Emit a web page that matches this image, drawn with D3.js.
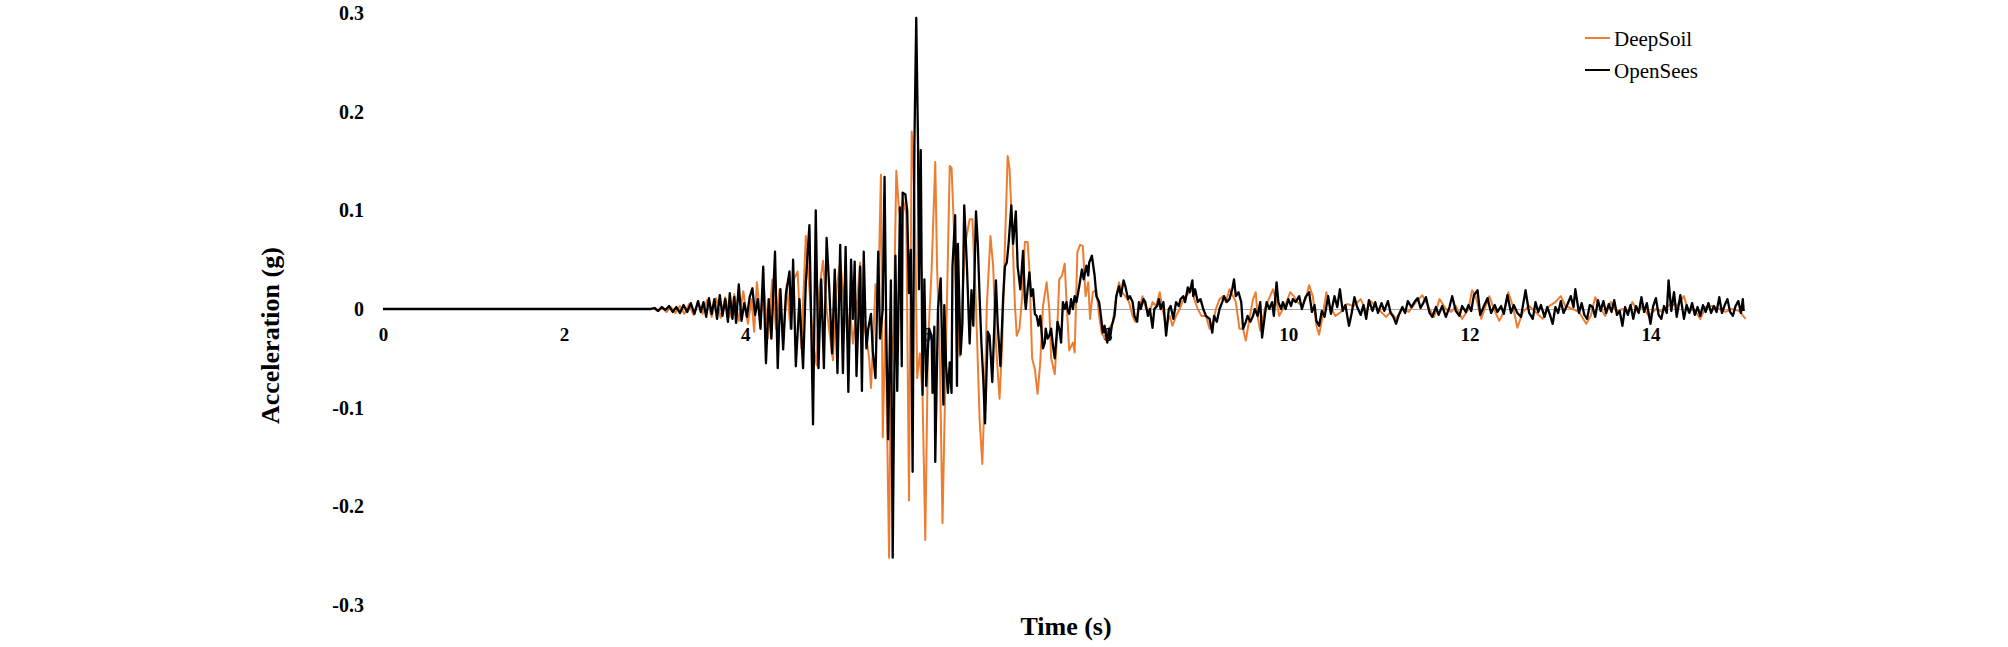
<!DOCTYPE html>
<html><head><meta charset="utf-8">
<script src="https://cdn.jsdelivr.net/npm/d3@7/dist/d3.min.js"></script>
<style>body{margin:0;background:#fff}svg{display:block}</style>
</head><body>
<svg id="chart" width="2008" height="647"></svg>
<script>
// ---- data ----
const xTicks = [0, 2, 4, 6, 8, 10, 12, 14];
const yTicks = [-0.3, -0.2, -0.1, 0, 0.1, 0.2, 0.3];
const seriesNames = ["DeepSoil", "OpenSees"];
const seriesColors = ["#ED7D31", "#000000"];
const seriesWidths = [2, 2.3];
const xTitle = "Time (s)";
const yTitle = "Acceleration (g)";

// [time (s), acceleration (g)]
const deepSoil = [
[0,0],[2.95,0],[2.98,0.001],[3.03,-0.002],[3.08,0.002],[3.13,-0.003],[3.18,0.002],[3.23,-0.004],[3.28,0.003],[3.33,-0.005],
[3.38,0.005],[3.43,-0.006],[3.48,0.007],[3.53,-0.005],[3.58,0.009],[3.63,-0.008],[3.68,0.011],[3.73,-0.009],[3.78,0.012],[3.83,-0.008],
[3.88,0.015],[3.93,-0.012],[3.98,0.018],[4.03,-0.015],[4.07,0.01],[4.10,-0.023],[4.13,0.027],[4.17,-0.01],[4.21,0.02],[4.25,-0.03],
[4.30,0.03],[4.34,-0.02],[4.38,0.02],[4.42,-0.035],[4.46,0.025],[4.50,-0.02],[4.54,0.03],[4.58,0.038],[4.62,-0.04],[4.67,0.074],
[4.71,0.02],[4.75,-0.035],[4.79,-0.057],[4.82,0.02],[4.86,0.049],[4.90,0.0],[4.94,-0.03],[4.97,-0.052],[5.01,0.02],[5.05,0.049],
[5.09,0.01],[5.13,-0.03],[5.16,0.0],[5.19,-0.035],[5.23,0.0],[5.27,0.047],[5.31,-0.015],[5.34,-0.03],[5.37,-0.05],[5.39,-0.08],
[5.42,-0.02],[5.44,0.025],[5.47,0.01],[5.50,0.136],[5.52,-0.13],[5.55,-0.01],[5.59,-0.252],[5.61,-0.06],[5.64,-0.02],[5.67,0.14],
[5.70,0.10],[5.72,0.09],[5.74,0.112],[5.78,0.096],[5.81,-0.194],[5.84,0.18],[5.86,0.143],[5.88,0.07],[5.90,-0.07],[5.93,-0.045],
[5.96,-0.09],[5.99,-0.234],[6.02,-0.035],[6.06,0.04],[6.10,0.149],[6.12,0.043],[6.15,-0.046],[6.18,-0.217],[6.22,-0.035],[6.26,0.145],
[6.28,0.143],[6.30,0.097],[6.33,0.019],[6.37,-0.048],[6.40,0.012],[6.43,0.066],[6.48,0.091],[6.51,0.091],[6.55,0.004],[6.59,-0.112],
[6.62,-0.157],[6.65,-0.074],[6.67,0.004],[6.71,0.074],[6.74,0.043],[6.77,-0.035],[6.81,-0.091],[6.84,-0.035],[6.86,0.035],[6.90,0.155],
[6.92,0.143],[6.95,0.081],[6.98,0.004],[7.00,-0.027],[7.03,-0.02],[7.06,0.013],[7.09,0.068],[7.12,0.068],[7.14,0.04],[7.17,-0.05],
[7.20,-0.061],[7.23,-0.086],[7.26,-0.054],[7.29,0.003],[7.33,0.027],[7.36,0.0],[7.38,-0.05],[7.42,-0.066],[7.44,-0.037],[7.47,0.03],
[7.50,0.034],[7.53,0.046],[7.55,0.007],[7.58,-0.042],[7.62,-0.034],[7.64,-0.044],[7.67,0.058],[7.70,0.065],[7.73,0.064],[7.76,0.013],
[7.79,0.027],[7.81,-0.01],[7.84,0.017],[7.88,0.019],[7.91,-0.007],[7.94,-0.025],[7.98,-0.03],[8.02,-0.02],[8.06,-0.014],[8.10,0.013],
[8.13,0.027],[8.16,0.017],[8.20,0.013],[8.24,0.007],[8.28,-0.007],[8.31,-0.013],[8.35,0.0],[8.39,0.013],[8.43,0.0],[8.47,-0.003],
[8.50,0.007],[8.54,0.003],[8.58,0.017],[8.61,0.0],[8.65,-0.017],[8.69,-0.007],[8.72,-0.017],[8.76,-0.007],[8.80,0.0],[8.83,0.007],
[8.87,0.013],[8.91,0.017],[8.94,0.02],[8.96,0.01],[9.00,0.0],[9.04,-0.007],[9.09,-0.007],[9.13,-0.02],[9.17,-0.013],[9.20,0.0],
[9.24,0.01],[9.28,0.013],[9.31,0.007],[9.35,0.02],[9.39,0.013],[9.42,0.007],[9.46,-0.02],[9.50,-0.02],[9.53,-0.032],[9.57,-0.01],
[9.61,0.01],[9.64,0.017],[9.66,-0.007],[9.69,-0.022],[9.74,0.0],[9.77,0.007],[9.83,0.02],[9.87,0.007],[9.90,-0.007],[9.94,0.0],
[9.98,0.007],[10.02,0.017],[10.06,0.013],[10.10,0.007],[10.15,0.003],[10.19,0.01],[10.23,0.024],[10.27,0.013],[10.31,-0.017],[10.34,-0.026],
[10.38,-0.007],[10.42,0.017],[10.46,0.003],[10.52,-0.007],[10.58,-0.003],[10.65,0.005],[10.72,0.003],[10.80,0.01],[10.86,-0.003],[10.91,0.008],
[10.99,0.0],[11.08,-0.008],[11.13,-0.003],[11.19,-0.01],[11.26,0.0],[11.33,-0.003],[11.41,0.007],[11.48,0.014],[11.56,0.0],[11.61,-0.008],
[11.67,0.01],[11.74,0.0],[11.80,-0.003],[11.85,0.003],[11.92,-0.01],[11.99,0.0],[12.03,0.019],[12.07,0.013],[12.13,-0.01],[12.18,0.003],
[12.22,0.013],[12.27,0.0],[12.33,-0.012],[12.38,-0.003],[12.43,0.017],[12.48,0.003],[12.53,-0.019],[12.59,-0.003],[12.66,0.003],[12.73,-0.003],
[12.81,-0.01],[12.88,0.003],[12.95,0.007],[13.01,0.013],[13.06,0.003],[13.14,0.0],[13.21,-0.003],[13.29,-0.015],[13.34,-0.007],[13.39,0.012],
[13.45,0.0],[13.50,-0.007],[13.56,0.007],[13.63,-0.003],[13.69,0.0],[13.75,-0.003],[13.80,0.007],[13.86,-0.003],[13.91,0.003],[13.98,-0.007],
[14.06,0.0],[14.13,-0.003],[14.22,0.005],[14.29,0.003],[14.37,0.013],[14.42,-0.003],[14.48,0.0],[14.55,-0.01],[14.61,0.002],[14.68,0.003],
[14.76,0.0],[14.83,-0.003],[14.90,0.0],[14.98,-0.002],[15.05,-0.01]
];

const openSees = [
[0,0],[2.96,0],[3.00,0.001],[3.04,-0.002],[3.08,0.002],[3.12,-0.001],[3.16,0.003],[3.20,-0.003],[3.24,0.002],[3.28,-0.004],
[3.32,0.004],[3.36,-0.003],[3.40,0.006],[3.44,-0.005],[3.48,0.008],[3.51,-0.003],[3.54,0.007],[3.57,-0.008],[3.60,0.011],[3.63,-0.005],
[3.66,0.010],[3.69,-0.010],[3.72,0.014],[3.75,-0.007],[3.78,0.010],[3.81,-0.013],[3.83,0.016],[3.86,-0.010],[3.88,0.012],[3.90,-0.014],
[3.93,0.025],[3.96,-0.012],[3.99,0.006],[4.02,-0.008],[4.05,0.012],[4.08,0.021],[4.11,-0.006],[4.14,0.01],[4.17,-0.02],[4.20,0.043],
[4.23,-0.055],[4.26,0.01],[4.29,-0.03],[4.33,0.058],[4.36,-0.06],[4.39,0.02],[4.42,-0.041],[4.45,0.015],[4.49,0.038],[4.51,-0.02],
[4.53,0.05],[4.56,-0.058],[4.60,0.01],[4.64,-0.06],[4.67,0.026],[4.71,0.085],[4.75,-0.117],[4.78,0.100],[4.81,-0.06],[4.84,0.03],
[4.87,-0.06],[4.90,0.072],[4.93,0.02],[4.96,-0.045],[4.99,0.04],[5.02,-0.065],[5.05,0.065],[5.08,-0.065],[5.11,0.063],[5.14,-0.084],
[5.17,0.05],[5.19,-0.01],[5.21,0.048],[5.23,-0.068],[5.27,0.043],[5.29,-0.083],[5.31,0.058],[5.33,-0.015],[5.34,-0.04],[5.36,-0.02],
[5.39,-0.005],[5.41,-0.043],[5.44,-0.07],[5.47,0.058],[5.49,-0.03],[5.52,0.0],[5.54,0.134],[5.56,-0.03],[5.58,-0.132],[5.61,0.029],
[5.63,-0.252],[5.66,0.054],[5.68,-0.083],[5.71,0.103],[5.73,-0.058],[5.74,0.118],[5.77,0.116],[5.79,0.10],[5.81,0.016],[5.83,0.06],
[5.85,-0.165],[5.87,0.17],[5.89,0.295],[5.91,0.166],[5.92,0.02],[5.94,0.161],[5.96,-0.087],[5.98,0.03],[6.00,-0.078],[6.03,-0.02],
[6.06,-0.027],[6.07,-0.085],[6.09,-0.018],[6.10,-0.155],[6.13,0.0],[6.16,0.031],[6.19,-0.097],[6.20,0.004],[6.22,-0.058],[6.24,-0.085],
[6.26,-0.054],[6.28,-0.085],[6.29,0.043],[6.32,0.095],[6.34,-0.078],[6.35,0.066],[6.38,-0.046],[6.40,-0.015],[6.42,0.105],[6.45,0.043],
[6.48,-0.035],[6.50,0.019],[6.52,-0.017],[6.55,0.099],[6.57,0.066],[6.59,0.012],[6.61,-0.035],[6.63,-0.07],[6.65,-0.116],[6.68,-0.023],
[6.70,-0.027],[6.73,-0.074],[6.75,-0.023],[6.77,0.029],[6.79,-0.016],[6.82,-0.058],[6.85,0.012],[6.87,0.043],[6.89,0.047],[6.91,0.066],
[6.94,0.105],[6.96,0.066],[6.99,0.099],[7.01,0.043],[7.04,0.02],[7.07,0.059],[7.09,0.01],[7.10,0.0],[7.12,0.02],[7.14,0.037],
[7.16,0.013],[7.18,0.02],[7.20,-0.005],[7.22,-0.007],[7.24,-0.017],[7.26,-0.007],[7.29,-0.04],[7.31,-0.034],[7.32,-0.02],[7.34,-0.03],
[7.36,-0.027],[7.38,-0.02],[7.40,-0.037],[7.42,-0.05],[7.44,-0.027],[7.45,-0.013],[7.47,-0.02],[7.49,-0.034],[7.51,0.007],[7.53,0.0],
[7.55,0.007],[7.56,0.0],[7.58,-0.005],[7.60,0.01],[7.62,0.0],[7.64,0.013],[7.66,0.007],[7.69,0.023],[7.72,0.04],[7.74,0.03],
[7.77,0.044],[7.79,0.034],[7.80,0.047],[7.83,0.054],[7.86,0.034],[7.88,0.013],[7.91,0.007],[7.93,-0.007],[7.95,-0.024],[7.97,-0.017],
[8.00,-0.034],[8.02,-0.02],[8.03,-0.03],[8.05,-0.017],[8.08,-0.007],[8.10,0.013],[8.13,0.023],[8.15,0.013],[8.18,0.029],[8.20,0.023],
[8.23,0.01],[8.25,0.013],[8.28,0.007],[8.30,-0.007],[8.33,-0.013],[8.35,0.007],[8.37,0.0],[8.40,0.01],[8.42,0.007],[8.45,-0.007],
[8.47,0.0],[8.50,-0.019],[8.52,0.0],[8.55,0.003],[8.57,0.01],[8.59,0.0],[8.62,0.007],[8.65,-0.027],[8.68,0.0],[8.70,0.003],
[8.73,-0.01],[8.76,0.007],[8.79,0.003],[8.81,0.01],[8.84,0.013],[8.86,0.007],[8.89,0.022],[8.91,0.017],[8.94,0.029],[8.95,0.013],
[8.97,0.02],[9.00,0.007],[9.03,0.01],[9.06,0.0],[9.09,-0.007],[9.13,-0.01],[9.16,-0.024],[9.18,-0.007],[9.21,-0.013],[9.24,0.0],
[9.27,0.007],[9.29,0.013],[9.32,0.007],[9.35,0.01],[9.38,0.02],[9.40,0.03],[9.42,0.013],[9.45,0.017],[9.48,0.007],[9.50,-0.02],
[9.53,-0.013],[9.55,-0.007],[9.58,-0.013],[9.61,-0.007],[9.63,0.0],[9.66,-0.007],[9.69,0.007],[9.71,-0.029],[9.74,-0.007],[9.76,0.007],
[9.79,0.0],[9.82,0.007],[9.84,-0.007],[9.87,0.027],[9.89,0.007],[9.92,0.0],[9.94,0.007],[9.97,0.0],[10.00,0.01],[10.03,0.003],
[10.05,0.01],[10.08,0.007],[10.12,0.013],[10.15,0.0],[10.19,0.012],[10.23,0.017],[10.26,-0.003],[10.29,0.004],[10.31,-0.012],[10.34,-0.017],
[10.37,-0.002],[10.40,-0.008],[10.44,0.013],[10.47,-0.005],[10.51,0.013],[10.54,0.002],[10.57,0.020],[10.60,-0.002],[10.63,0.004],[10.67,-0.017],
[10.70,-0.004],[10.73,0.012],[10.76,0.002],[10.80,-0.006],[10.83,0.004],[10.86,-0.010],[10.89,0.009],[10.93,-0.002],[10.96,0.007],[10.99,-0.004],
[11.03,0.006],[11.06,-0.002],[11.10,0.008],[11.13,-0.004],[11.16,-0.008],[11.19,-0.015],[11.22,-0.006],[11.26,0.002],[11.29,-0.004],[11.32,0.008],
[11.36,0.002],[11.40,0.008],[11.43,0.011],[11.46,0.001],[11.49,0.006],[11.52,0.012],[11.56,-0.004],[11.59,-0.008],[11.63,0.002],[11.66,-0.006],
[11.70,0.003],[11.74,-0.008],[11.78,0.002],[11.81,0.013],[11.85,-0.002],[11.89,-0.007],[11.92,0.003],[11.96,-0.003],[11.99,0.004],[12.02,-0.002],
[12.05,0.014],[12.09,0.019],[12.12,-0.006],[12.16,0.003],[12.20,0.011],[12.24,-0.004],[12.28,0.004],[12.31,-0.003],[12.35,0.003],[12.38,-0.005],
[12.42,0.014],[12.46,-0.004],[12.49,0.004],[12.53,-0.004],[12.57,-0.008],[12.62,0.019],[12.66,-0.004],[12.70,-0.010],[12.73,0.007],[12.76,-0.003],
[12.79,0.004],[12.83,-0.008],[12.86,0.002],[12.89,-0.006],[12.92,-0.015],[12.95,0.002],[12.98,-0.004],[13.01,0.008],[13.04,-0.004],[13.08,0.004],
[13.12,0.013],[13.15,0.002],[13.17,0.020],[13.21,-0.004],[13.24,0.006],[13.27,-0.006],[13.30,-0.010],[13.33,0.004],[13.36,0.002],[13.39,-0.008],
[13.42,0.009],[13.45,-0.002],[13.48,0.008],[13.51,-0.004],[13.54,0.005],[13.57,-0.003],[13.60,0.009],[13.63,-0.006],[13.66,-0.002],[13.69,-0.017],
[13.72,0.002],[13.75,-0.006],[13.78,0.004],[13.81,-0.010],[13.84,0.003],[13.87,-0.004],[13.90,0.012],[13.93,-0.003],[13.96,0.006],[14.00,-0.015],
[14.03,0.003],[14.06,0.011],[14.09,-0.006],[14.12,-0.010],[14.15,0.003],[14.18,-0.004],[14.20,0.029],[14.23,-0.002],[14.26,0.017],[14.29,-0.008],
[14.33,0.014],[14.37,-0.010],[14.40,0.004],[14.43,-0.004],[14.46,0.006],[14.49,-0.006],[14.52,0.002],[14.55,-0.007],[14.58,0.004],[14.61,-0.003],
[14.64,0.006],[14.67,-0.004],[14.70,0.003],[14.73,-0.003],[14.76,0.012],[14.79,-0.004],[14.82,0.004],[14.85,0.010],[14.88,-0.003],[14.91,-0.007],
[14.94,0.003],[14.97,0.008],[15.00,-0.004],[15.02,0.010],[15.03,-0.002]
];

// ---- chart ----
const svg = d3.select("#chart");
const FONT = "'Times New Roman', 'Liberation Serif', serif";

const x = d3.scaleLinear().domain([0, 15]).range([383, 1741]);
const y = d3.scaleLinear().domain([-0.3, 0.3]).range([605, 13]);

// y axis labels
const yAxis = svg.append("g")
  .attr("transform", `translate(${x(0)},0)`)
  .call(d3.axisLeft(y).tickValues(yTicks).tickSize(0).tickPadding(19)
        .tickFormat(d => d === 0 ? "0" : d.toFixed(1)));
yAxis.select(".domain").remove();
yAxis.selectAll("text").attr("font-family", FONT).attr("font-size", 20)
  .attr("font-weight", "bold").attr("fill", "#000");

// x axis along zero line
const xAxis = svg.append("g")
  .attr("transform", `translate(0,${y(0)})`)
  .call(d3.axisBottom(x).tickValues(xTicks).tickSize(0).tickPadding(19)
        .tickFormat(d3.format("d")));
xAxis.select(".domain").attr("stroke", "#a6a6a6").attr("stroke-width", 1);
xAxis.selectAll("text").attr("font-family", FONT).attr("font-size", 19)
  .attr("font-weight", "bold").attr("fill", "#000");

// axis titles
svg.append("text")
  .attr("transform", `translate(279,${y(-0.027)}) rotate(-90)`)
  .attr("text-anchor", "middle")
  .attr("font-family", FONT).attr("font-size", 26).attr("font-weight", "bold")
  .text(yTitle);
svg.append("text")
  .attr("x", 1066).attr("y", 635)
  .attr("text-anchor", "middle")
  .attr("font-family", FONT).attr("font-size", 26).attr("font-weight", "bold")
  .text(xTitle);

// lines
const line = d3.line().x(d => x(d[0])).y(d => y(d[1]));
const allSeries = [deepSoil, openSees];
svg.append("g").selectAll("path")
  .data(allSeries)
  .join("path")
  .attr("d", line)
  .attr("fill", "none")
  .attr("stroke", (d, i) => seriesColors[i])
  .attr("stroke-width", (d, i) => seriesWidths[i])
  .attr("stroke-linejoin", "round");

// legend
const legend = svg.append("g").attr("transform", "translate(1585,38)");
seriesNames.forEach((name, i) => {
  const g = legend.append("g").attr("transform", `translate(0,${i * 32})`);
  g.append("line").attr("x1", 0).attr("x2", 25).attr("y1", 0).attr("y2", 0)
    .attr("stroke", seriesColors[i]).attr("stroke-width", 2);
  g.append("text").attr("x", 29).attr("y", 7.5)
    .attr("font-family", FONT).attr("font-size", 21).attr("fill", "#000")
    .text(name);
});
</script>
</body></html>
